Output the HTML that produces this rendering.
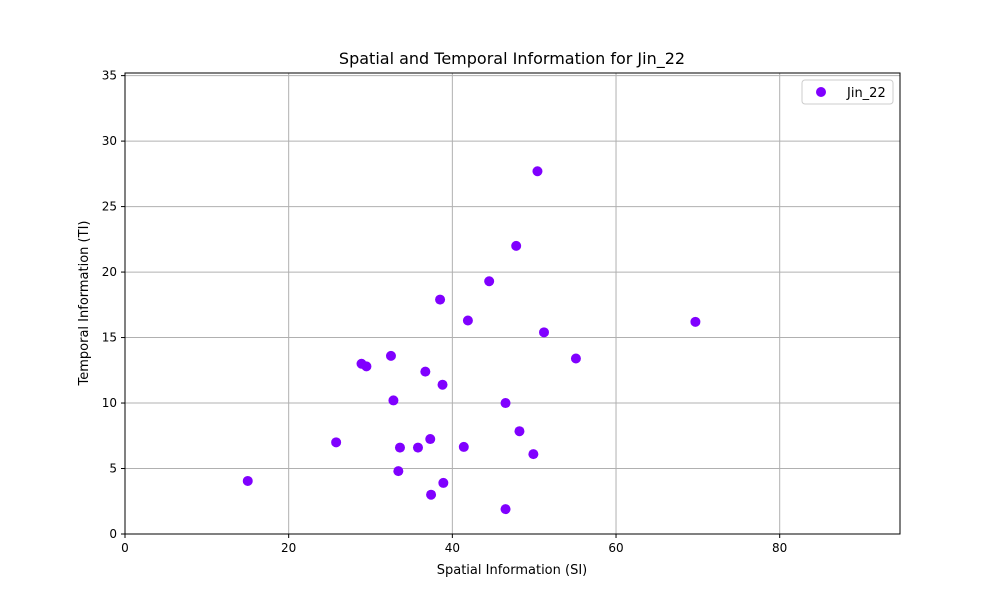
<!DOCTYPE html>
<html><head><meta charset="utf-8"><style>
body{margin:0;background:#fff;font-family:"Liberation Sans","DejaVu Sans",sans-serif;}
svg text{font-family:"DejaVu Sans","Liberation Sans",sans-serif;}
</style></head><body>
<svg id="chart" width="1000" height="600">
<rect width="1000" height="600" fill="#fff"/>
<g id="grid"></g>
<g id="ticks"></g>
<g id="points"></g>
<rect x="125" y="73" width="775" height="461" fill="none" stroke="#000" stroke-width="1"/>
<text x="512" y="64" text-anchor="middle" font-size="16">Spatial and Temporal Information for Jin_22</text>
<text x="512" y="574" text-anchor="middle" font-size="13">Spatial Information (SI)</text>
<text x="88" y="303" text-anchor="middle" font-size="13" transform="rotate(-90 88 303)">Temporal Information (TI)</text>
<g>
<rect x="802" y="80" width="91" height="24" fill="#fff" stroke="#ccc" rx="3"/>
<circle cx="821" cy="92" r="5" fill="#8000ff"/>
<text x="847" y="97" font-size="13">Jin_22</text>
</g>
</svg>
<script>
const siValues=[15.0,25.8,28.9,29.5,32.5,32.8,33.4,33.6,35.8,36.7,37.3,37.4,38.5,38.8,38.9,41.4,41.9,44.5,46.5,46.5,47.8,48.2,49.9,50.4,51.2,55.1,69.7];
const tiValues=[4.05,7.0,13.0,12.8,13.6,10.2,4.8,6.6,6.6,12.4,7.25,3.0,17.9,11.4,3.9,6.65,16.3,19.3,10.0,1.9,22.0,7.85,6.1,27.7,15.4,13.4,16.2];
const xTicks=[0,20,40,60,80];
const yTicks=[0,5,10,15,20,25,30,35];
const X0=125,X1=900,Y0=534,Y1=73,XMAX=94.7,YMAX=35.2;
const sx=v=>X0+v/XMAX*(X1-X0);
const sy=v=>Y0-v/YMAX*(Y0-Y1);
const NS="http://www.w3.org/2000/svg";
const grid=document.getElementById('grid'),ticks=document.getElementById('ticks'),pts=document.getElementById('points');
function mk(t,a,p){const e=document.createElementNS(NS,t);for(const k in a)e.setAttribute(k,a[k]);p.appendChild(e);return e;}
xTicks.forEach(v=>{const x=sx(v);
const g=mk('line',{x1:x,x2:x,y1:Y1,y2:Y0,stroke:'#b0b0b0','stroke-width':1},grid);


mk('line',{x1:x,x2:x,y1:Y0,y2:Y0+4,stroke:'#000'},ticks);
const t=mk('text',{x:x,y:Y0+18,'text-anchor':'middle','font-size':12},ticks);t.textContent=v;

});
yTicks.forEach(v=>{const y=sy(v);
const g=mk('line',{x1:X0,x2:X1,y1:y,y2:y,stroke:'#b0b0b0','stroke-width':1},grid);


mk('line',{x1:X0-4,x2:X0,y1:y,y2:y,stroke:'#000'},ticks);
const t=mk('text',{x:X0-8,y:y+4,'text-anchor':'end','font-size':12},ticks);t.textContent=v;

});
siValues.forEach((v,i)=>{const c=mk('circle',{cx:sx(v),cy:sy(tiValues[i]),r:5,fill:'#8000ff'},pts);

});
</script>
</body></html>
